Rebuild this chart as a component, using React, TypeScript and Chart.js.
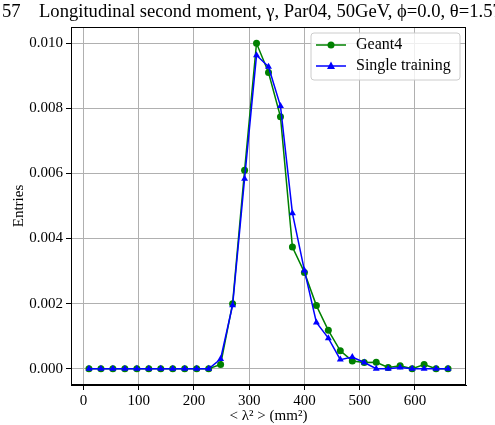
import React, { useEffect, useRef } from "react";
import { Chart, registerables } from "chart.js";

Chart.register(...registerables);

const binCenters = [10, 31.7, 53.3, 75, 96.7, 118.3, 140, 161.7, 183.3, 205, 226.7, 248.3, 270, 291.7, 313.3, 335, 356.7, 378.3, 400, 421.7, 443.3, 465, 486.7, 508.3, 530, 551.7, 573.3, 595, 616.7, 638.3, 660];
const geant4 = [0, 0, 0, 0, 0, 0, 0, 0, 0, 0, 0, 0.00013, 0.002, 0.0061, 0.01, 0.0091, 0.00774, 0.00374, 0.00296, 0.00194, 0.00118, 0.00055, 0.00024, 0.00019, 0.0002, 0.00004, 0.00009, 0, 0.00013, 0, 0];
const singleTraining = [0, 0, 0, 0, 0, 0, 0, 0, 0, 0, 0, 0.0003, 0.00195, 0.00584, 0.00963, 0.00928, 0.00807, 0.00478, 0.00302, 0.00142, 0.00094, 0.00028, 0.00036, 0.00019, 0, 0, 0.00004, 0, 0, 0, 0];
const xTicks = [0, 100, 200, 300, 400, 500, 600];
const yTicks = [0, 0.002, 0.004, 0.006, 0.008, 0.01];
const seriesNames = ["Geant4", "Single training"];
const titleText = "Longitudinal second moment, \u03b3, Par04, 50GeV, \u03d5=0.0, \u03b8=1.57";
const titleFragment = "57";

const FONT = "'Liberation Serif', 'DejaVu Serif', serif";

const framePlugin = {
  id: "frameAndLegend",
  afterDraw(chart: any) {
    const { ctx, chartArea } = chart;
    ctx.save();
    ctx.strokeStyle = "#000";
    ctx.lineWidth = 1;
    ctx.strokeRect(chartArea.left + 0.5, chartArea.top + 0.5, chartArea.right - chartArea.left - 1, chartArea.bottom - chartArea.top - 1);

    // title
    ctx.fillStyle = "#000";
    ctx.font = `18.6px ${FONT}`;
    ctx.textBaseline = "middle";
    ctx.textAlign = "left";
    ctx.fillText(titleFragment, 2, 12);
    ctx.fillText(titleText, 39, 12);

    // legend
    const lx = 311, ly = 33, lw = 149, lh = 47;
    ctx.fillStyle = "rgba(255,255,255,0.8)";
    ctx.strokeStyle = "#cccccc";
    ctx.beginPath();
    const r = 3;
    ctx.moveTo(lx + r, ly);
    ctx.arcTo(lx + lw, ly, lx + lw, ly + lh, r);
    ctx.arcTo(lx + lw, ly + lh, lx, ly + lh, r);
    ctx.arcTo(lx, ly + lh, lx, ly, r);
    ctx.arcTo(lx, ly, lx + lw, ly, r);
    ctx.closePath();
    ctx.fill();
    ctx.stroke();

    const rows = [
      { color: "#008000", label: seriesNames[0], marker: "circle", y: 45 },
      { color: "#0000ff", label: seriesNames[1], marker: "triangle", y: 66 },
    ];
    rows.forEach((row) => {
      ctx.strokeStyle = row.color;
      ctx.fillStyle = row.color;
      ctx.lineWidth = 1.5;
      ctx.beginPath();
      ctx.moveTo(316, row.y);
      ctx.lineTo(346, row.y);
      ctx.stroke();
      ctx.beginPath();
      if (row.marker === "circle") {
        ctx.arc(331, row.y, 3.5, 0, Math.PI * 2);
      } else {
        ctx.moveTo(331, row.y - 4.5);
        ctx.lineTo(335, row.y + 3);
        ctx.lineTo(327, row.y + 3);
        ctx.closePath();
      }
      ctx.fill();
      ctx.fillStyle = "#000";
      ctx.font = `16px ${FONT}`;
      ctx.textAlign = "left";
      ctx.textBaseline = "middle";
      ctx.fillText(row.label, 356, row.y);
    });
    ctx.restore();
  },
};

export default function App() {
  const canvasRef = useRef<HTMLCanvasElement | null>(null);

  useEffect(() => {
    if (!canvasRef.current) return;
    const chart = new Chart(canvasRef.current, {
      type: "line",
      data: {
        datasets: [
          {
            label: seriesNames[0],
            data: binCenters.map((x, i) => ({ x, y: geant4[i] })),
            borderColor: "#008000",
            backgroundColor: "#008000",
            borderWidth: 1.5,
            pointStyle: "circle",
            pointRadius: 3.5,
            pointBorderWidth: 0,
            tension: 0,
            order: 1,
          },
          {
            label: seriesNames[1],
            data: binCenters.map((x, i) => ({ x, y: singleTraining[i] })),
            borderColor: "#0000ff",
            backgroundColor: "#0000ff",
            borderWidth: 1.5,
            pointStyle: "triangle",
            pointRadius: 4,
            pointBorderWidth: 0,
            tension: 0,
            order: 0,
          },
        ],
      },
      options: {
        animation: false,
        responsive: false,
        maintainAspectRatio: false,
        layout: { padding: { top: 27, right: 29, left: 0, bottom: 0 } },
        plugins: {
          legend: { display: false },
          tooltip: { enabled: false },
          title: { display: false },
        },
        scales: {
          x: {
            type: "linear",
            min: -22.5,
            max: 692.5,
            afterBuildTicks: (scale: any) => {
              scale.ticks = xTicks.map((v) => ({ value: v }));
            },
            afterFit: (scale: any) => {
              scale.height = 40;
            },
            grid: { color: "#b0b0b0", tickColor: "#000", tickLength: 5, lineWidth: 1 },
            border: { display: true, color: "#000" },
            ticks: {
              color: "#000",
              font: { family: FONT, size: 15 },
              padding: 2,
              maxRotation: 0,
              callback: (v: any) => String(v),
            },
            title: {
              display: true,
              text: "< \u03bb\u00b2 > (mm\u00b2)",
              color: "#000",
              font: { family: FONT, size: 15 },
              padding: { top: -6, bottom: 0 },
            },
          },
          y: {
            type: "linear",
            min: -0.0005,
            max: 0.0105,
            afterBuildTicks: (scale: any) => {
              scale.ticks = yTicks.map((v) => ({ value: v }));
            },
            afterFit: (scale: any) => {
              scale.width = 71;
            },
            grid: { color: "#b0b0b0", tickColor: "#000", tickLength: 5, lineWidth: 1 },
            border: { display: true, color: "#000" },
            ticks: {
              color: "#000",
              font: { family: FONT, size: 15 },
              padding: 3,
              callback: (v: any) => Number(v).toFixed(3),
            },
            title: {
              display: true,
              text: "Entries",
              color: "#000",
              font: { family: FONT, size: 15 },
              padding: { top: 10, bottom: 0 },
            },
          },
        },
      },
      plugins: [framePlugin],
    });
    return () => chart.destroy();
  }, []);

  return (
    <div style={{ position: "fixed", left: 0, top: 0, width: 495, height: 425, background: "#fff" }}>
      <canvas ref={canvasRef} width={495} height={425} style={{ width: 495, height: 425 }} />
    </div>
  );
}
